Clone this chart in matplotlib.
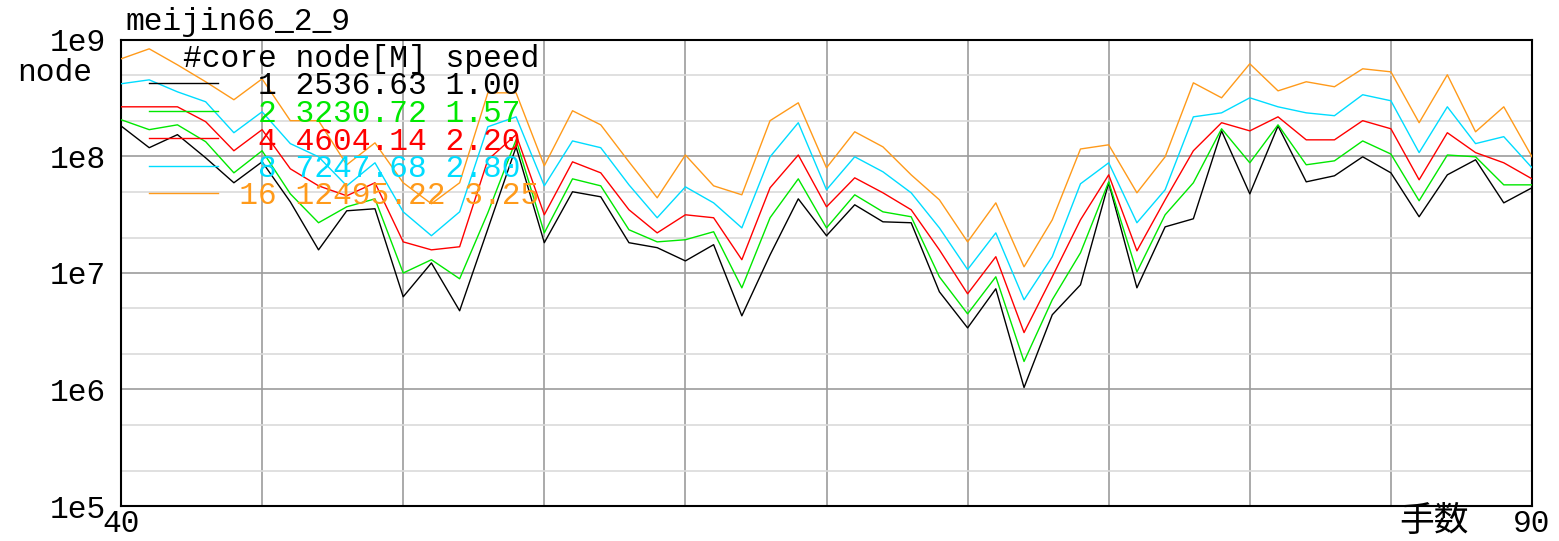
import numpy as np
import matplotlib
matplotlib.use("Agg")
import matplotlib.pyplot as plt
from matplotlib.lines import Line2D
from matplotlib.ticker import LogLocator, FixedLocator, FuncFormatter, NullFormatter

MONO = ["Liberation Mono", "DejaVu Sans Mono"]
FS = 22.5

moves = np.arange(40, 91)
cores = [1, 2, 4, 8, 16]
total_nodes_m = [2536.63, 3230.72, 4604.14, 7247.68, 12495.22]
speedup = [1.00, 1.57, 2.20, 2.80, 3.25]

# nodes searched per move, in millions
nodes_1 = [183, 119, 154, 97.4, 59.5, 90.0, 40.8, 15.8, 34.2, 35.6,
           6.25, 12.2, 4.74, 23.9, 121, 18.2, 49.8, 45.1, 18.2, 16.5,
           12.7, 17.5, 4.29, 14.3, 43.3, 20.9, 38.5, 27.5, 27.0, 6.90,
           3.38, 7.32, 1.04, 4.38, 7.92, 59.5, 7.46, 24.9, 29.2, 166,
           47.8, 183, 60.6, 68.3, 99.4, 72.4, 30.4, 69.6, 93.7, 40.0, 53.9]
nodes_2 = [207, 170, 187, 134, 72.4, 112, 47.8, 27.0, 37.0, 43.3,
           10.0, 13.0, 8.92, 32.9, 139, 22.1, 64.3, 56.0, 23.5, 18.5,
           19.3, 22.6, 7.46, 29.8, 64.3, 24.4, 46.9, 33.5, 30.4, 9.28,
           4.46, 9.28, 1.74, 5.89, 14.9, 60.6, 10.2, 31.6, 59.5, 173,
           88.3, 187, 84.9, 91.8, 136, 105, 41.7, 103, 99.4, 57.1, 57.1]
nodes_4 = [267, 267, 267, 199, 112, 170, 78.4, 56.0, 46.0, 59.5,
           18.5, 15.8, 16.8, 93.7, 154, 31.6, 90.0, 72.4, 34.9, 22.1,
           31.6, 29.8, 13.0, 53.9, 103, 37.0, 65.6, 48.8, 34.9, 15.8,
           6.63, 13.8, 3.08, 9.28, 28.6, 69.6, 15.5, 42.5, 112, 195,
           166, 219, 139, 139, 203, 173, 63.1, 160, 108, 88.3, 64.3]
nodes_8 = [421, 455, 359, 295, 160, 242, 129, 99.4, 56.0, 88.3,
           33.5, 20.9, 33.5, 180, 219, 56.0, 136, 119, 57.1, 29.8,
           54.9, 40.0, 24.4, 99.4, 195, 51.8, 99.4, 73.9, 48.8, 24.4,
           10.7, 22.1, 5.89, 13.8, 58.3, 88.3, 27.0, 51.8, 219, 237,
           319, 267, 237, 224, 339, 301, 108, 267, 129, 148, 80.0]
nodes_16 = [689, 840, 612, 438, 307, 464, 203, 203, 84.9, 131,
            59.5, 39.3, 59.5, 352, 352, 83.2, 247, 187, 90.0, 44.2,
            103, 56.0, 46.9, 203, 289, 80.0, 163, 121, 69.6, 42.5,
            18.5, 40.0, 11.3, 28.6, 116, 126, 48.8, 99.4, 429, 319,
            625, 366, 438, 397, 566, 533, 195, 503, 163, 267, 99.4]

series = [nodes_1, nodes_2, nodes_4, nodes_8, nodes_16]
colors = ["#000000", "#00e800", "#ff0000", "#00dcff", "#ff9a1a"]

W, H = 1559, 541
fig = plt.figure(figsize=(W / 100, H / 100), dpi=100)
ax = fig.add_axes([121 / W, 1 - 506 / H, 1411 / W, 466 / H])

for vals, c in zip(series, colors):
    ax.plot(moves, np.array(vals) * 1e6, color=c, lw=1.0, zorder=3)

ax.set_yscale("log")
ax.set_xlim(40, 90)
ax.set_ylim(1e5, 1e9)

ax.xaxis.set_major_locator(FixedLocator(range(40, 91, 5)))
ax.xaxis.set_major_formatter(FuncFormatter(lambda v, _: f"{int(v)}" if v in (40, 90) else ""))
ax.yaxis.set_major_locator(LogLocator(base=10, numticks=10))
ax.yaxis.set_major_formatter(FuncFormatter(lambda v, _: f"1e{int(round(np.log10(v)))}"))
ax.yaxis.set_minor_locator(LogLocator(base=10, subs=(2.0, 5.0), numticks=10))
ax.yaxis.set_minor_formatter(NullFormatter())

ax.grid(True, which="major", color="#9c9c9c", lw=1.2, zorder=1)
ax.grid(True, which="minor", axis="y", color="#dadada", lw=1.2, zorder=1)
ax.tick_params(which="both", length=0)
ax.tick_params(axis="y", pad=11)
ax.tick_params(axis="x", pad=2)
for lab in ax.get_xticklabels() + ax.get_yticklabels():
    lab.set_family(MONO)
    lab.set_fontsize(FS)
for s in ax.spines.values():
    s.set_linewidth(1.5)
    s.set_color("#000000")

def fx(px):
    return px / W

def fy(py):
    return 1 - py / H

fig.text(fx(125), fy(22), "meijin66_2_9", family=MONO, fontsize=FS, va="center", ha="left")
fig.text(fx(17), fy(73), "node", family=MONO, fontsize=FS, va="center", ha="left")
fig.text(fx(1434), fy(522), "手数", family=["Noto Sans CJK JP", "DejaVu Sans"],
         fontsize=25, va="center", ha="center")

# key block: header plus one row per core count
fig.text(fx(183), fy(59), "#core node[M] speed", family=MONO, fontsize=FS,
         va="center", ha="left", zorder=4)
for i, (c, n, s, col) in enumerate(zip(cores, total_nodes_m, speedup, colors)):
    ty = 86.5 + i * 27.5
    fig.text(fx(183), fy(ty), f"{c:5d} {n:7.2f} {s:4.2f}", family=MONO,
             fontsize=FS, color=col, va="center", ha="left", zorder=4)
    fig.add_artist(Line2D([fx(149), fx(218)], [fy(ty - 3.5), fy(ty - 3.5)],
                          color=col, lw=1.0, transform=fig.transFigure))

fig.savefig("out.png", dpi=100)
